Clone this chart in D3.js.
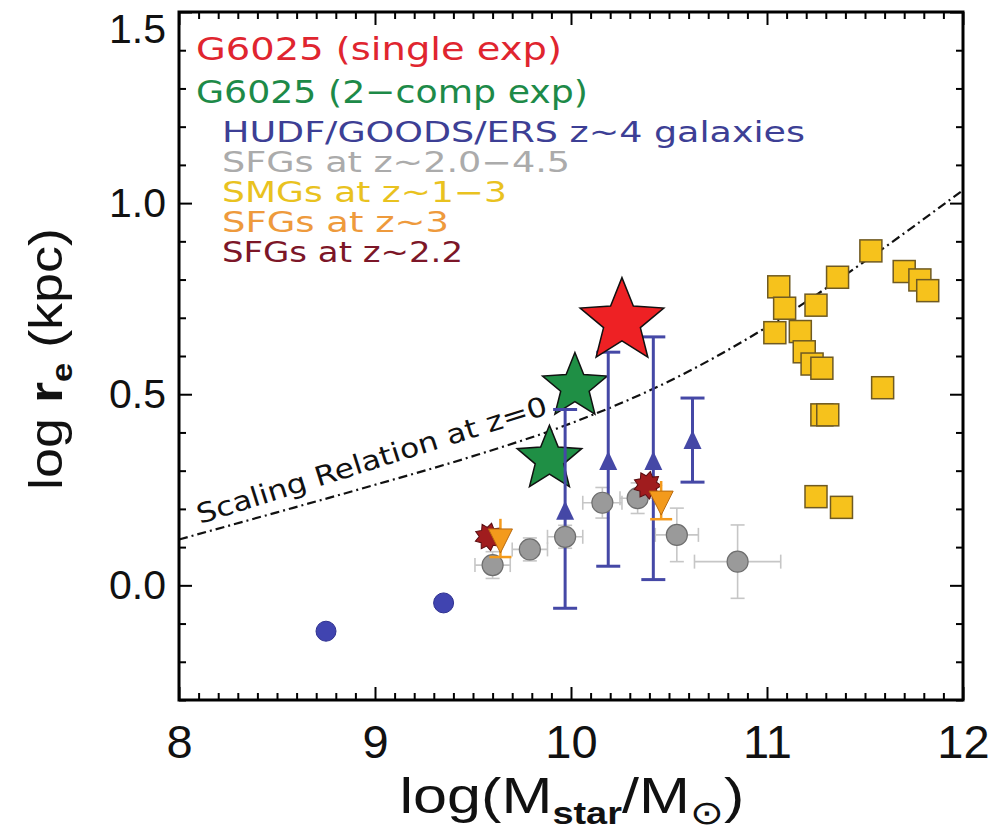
<!DOCTYPE html>
<html>
<head>
<meta charset="utf-8">
<script src="https://cdn.jsdelivr.net/npm/d3@7"></script>
<style>
  body { margin: 0; background: #fff; }
  svg { display: block; }
</style>
</head>
<body>
<svg id="chart" width="993" height="835"></svg>
<script>
// ---- data: log stellar mass vs log effective radius ----
const g6025Single = [{ x: 10.26, y: 0.69 }];
const g6025TwoComp = [{ x: 10.02, y: 0.52 }, { x: 9.89, y: 0.33 }];

// HUDF/GOODS/ERS z~4: binned medians with ranges, plus two single galaxies
const hudfBinned = [
  { x: 9.97,  y: 0.19,  lo: -0.06, hi: 0.46 },
  { x: 10.19, y: 0.32,  lo: 0.05,  hi: 0.61 },
  { x: 10.42, y: 0.32,  lo: 0.015, hi: 0.65 },
  { x: 10.62, y: 0.375, lo: 0.27,  hi: 0.49 }
];
const hudfSingle = [{ x: 8.75, y: -0.12 }, { x: 9.35, y: -0.046 }];

// SFGs at z~2.0-4.5 (with x / y errors)
const sfgWide = [
  { x: 9.60,  y: 0.053, xe: 0.09, ye: 0.035 },
  { x: 9.79,  y: 0.094, xe: 0.09, ye: 0.03 },
  { x: 9.97,  y: 0.127, xe: 0.09, ye: 0.03 },
  { x: 10.16, y: 0.216, xe: 0.10, ye: 0.04 },
  { x: 10.34, y: 0.228, xe: 0.09, ye: 0.04 },
  { x: 10.54, y: 0.132, xe: 0.11, ye: 0.07 },
  { x: 10.85, y: 0.062, xe: 0.22, ye: 0.096 }
];

// SMGs at z~1-3
const smgX = [11.06, 11.09, 11.04, 11.25, 11.36, 11.53, 11.17, 11.19, 11.23, 11.28, 11.70, 11.78, 11.82, 11.59, 11.28, 11.31, 11.25, 11.38];
const smgY = [0.781, 0.725, 0.661, 0.733, 0.806, 0.875, 0.664, 0.611, 0.579, 0.568, 0.821, 0.799, 0.771, 0.517, 0.446, 0.446, 0.232, 0.204];

// SFGs at z~3 (with y errors) and at z~2.2
const sfgZ3 = [{ x: 9.64, y: 0.124, ye: 0.05 }, { x: 10.46, y: 0.223, ye: 0.05 }];
const sfgZ22 = [{ x: 9.58, y: 0.127 }, { x: 10.39, y: 0.262 }];

// local size-mass relation of late types
const scalingX = [8.0, 8.5, 9.0, 9.5, 10.0, 10.5, 11.0, 11.5, 12.0];
const scalingY = [0.120, 0.191, 0.263, 0.338, 0.424, 0.534, 0.676, 0.848, 1.034];

const xTicks = [8, 9, 10, 11, 12];
const yTicks = [0.0, 0.5, 1.0, 1.5];

const legendLabels = [
  "G6025 (single exp)",
  "G6025 (2\u2212comp exp)",
  "HUDF/GOODS/ERS z~4 galaxies",
  "SFGs at z~2.0\u22124.5",
  "SMGs at z~1\u22123",
  "SFGs at z~3",
  "SFGs at z~2.2"
];
const legendColors = ["#e0252f", "#1d8a48", "#3d3f95", "#ababab", "#e9c21f", "#ee9a3c", "#7c1628"];

// ---- layout ----
const svg = d3.select("#chart");
const plotL = 179, plotR = 963, plotT = 12, plotB = 700;
const x = d3.scaleLinear().domain([8, 12]).range([plotL, plotR]);
const y = d3.scaleLinear().domain([-0.3, 1.5]).range([plotB, plotT]);

const blue = "#4548a6";

function starPath(R, ratio, n) {
  const pts = [];
  for (let i = 0; i < 2 * n; i++) {
    const r = i % 2 === 0 ? R : R * ratio;
    const a = -Math.PI / 2 + i * Math.PI / n;
    pts.push([r * Math.cos(a), r * Math.sin(a)]);
  }
  return "M" + pts.map(p => p[0].toFixed(2) + "," + p[1].toFixed(2)).join("L") + "Z";
}

// scaling relation (dash-dot)
svg.append("path")
  .datum(scalingX.map((v, i) => [v, scalingY[i]]))
  .attr("fill", "none")
  .attr("stroke", "#111")
  .attr("stroke-width", 2.2)
  .attr("stroke-dasharray", "9,4,2,4")
  .attr("d", d3.line().x(d => x(d[0])).y(d => y(d[1])).curve(d3.curveMonotoneX));

svg.append("text")
  .attr("transform", "translate(200,524) rotate(-17.5)")
  .attr("font-family", "DejaVu Sans")
  .attr("font-size", 27)
  .attr("fill", "#111")
  .attr("textLength", 366)
  .attr("lengthAdjust", "spacingAndGlyphs")
  .text("Scaling Relation at z=0");

// green stars
svg.selectAll(".gstar").data(g6025TwoComp).join("path")
  .attr("transform", d => `translate(${x(d.x)},${y(d.y)})`)
  .attr("d", starPath(34, 0.44, 5))
  .attr("fill", "#1f8f45").attr("stroke", "#111").attr("stroke-width", 1.5);

// gray error bars
const grayErr = svg.append("g").attr("stroke", "#c6c6c6").attr("stroke-width", 1.6).attr("fill", "none");
sfgWide.forEach(d => {
  const cx = x(d.x), cy = y(d.y);
  const x0 = x(d.x - d.xe), x1 = x(d.x + d.xe), y0 = y(d.y - d.ye), y1 = y(d.y + d.ye);
  grayErr.append("line").attr("x1", x0).attr("x2", x1).attr("y1", cy).attr("y2", cy);
  grayErr.append("line").attr("x1", x0).attr("x2", x0).attr("y1", cy - 7).attr("y2", cy + 7);
  grayErr.append("line").attr("x1", x1).attr("x2", x1).attr("y1", cy - 7).attr("y2", cy + 7);
  grayErr.append("line").attr("x1", cx).attr("x2", cx).attr("y1", y0).attr("y2", y1);
  grayErr.append("line").attr("x1", cx - 7).attr("x2", cx + 7).attr("y1", y0).attr("y2", y0);
  grayErr.append("line").attr("x1", cx - 7).attr("x2", cx + 7).attr("y1", y1).attr("y2", y1);
});

// blue ranges
const blueErr = svg.append("g").attr("stroke", blue).attr("stroke-width", 3).attr("fill", "none");
hudfBinned.forEach(d => {
  const cx = x(d.x);
  blueErr.append("line").attr("x1", cx).attr("x2", cx).attr("y1", y(d.lo)).attr("y2", y(d.hi));
  blueErr.append("line").attr("x1", cx - 12).attr("x2", cx + 12).attr("y1", y(d.lo)).attr("y2", y(d.lo));
  blueErr.append("line").attr("x1", cx - 12).attr("x2", cx + 12).attr("y1", y(d.hi)).attr("y2", y(d.hi));
});

// gray circles
svg.selectAll(".gcirc").data(sfgWide).join("circle")
  .attr("cx", d => x(d.x)).attr("cy", d => y(d.y)).attr("r", 10.5)
  .attr("fill", "#9a9a9a").attr("stroke", "#6e6e6e").attr("stroke-width", 1.2);

// blue triangles
svg.selectAll(".btri").data(hudfBinned).join("path")
  .attr("transform", d => `translate(${x(d.x)},${y(d.y)})`)
  .attr("d", "M0,-12L9,7L-9,7Z")
  .attr("fill", blue);

// blue dots
svg.selectAll(".bdot").data(hudfSingle).join("circle")
  .attr("cx", d => x(d.x)).attr("cy", d => y(d.y)).attr("r", 10)
  .attr("fill", "#4044b0").attr("stroke", "#2f3190").attr("stroke-width", 1);

// SMG squares
svg.selectAll(".sq").data(smgX.map((v, i) => ({ x: v, y: smgY[i] }))).join("rect")
  .attr("x", d => x(d.x) - 11).attr("y", d => y(d.y) - 11)
  .attr("width", 22).attr("height", 22)
  .attr("fill", "#f6c21c").attr("stroke", "#6f5a22").attr("stroke-width", 1.5);

// SFGs z~2.2
svg.selectAll(".mstar").data(sfgZ22).join("path")
  .attr("transform", d => `translate(${x(d.x)},${y(d.y)}) rotate(12)`)
  .attr("d", starPath(14, 0.68, 9))
  .attr("fill", "#a01c1e").attr("stroke", "#5a0d10").attr("stroke-width", 1);

// SFGs z~3 with error caps
const orErr = svg.append("g").attr("stroke", "#f39a1c").attr("stroke-width", 2.5);
sfgZ3.forEach(d => {
  const cx = x(d.x);
  orErr.append("line").attr("x1", cx).attr("x2", cx).attr("y1", y(d.y - d.ye)).attr("y2", y(d.y + d.ye));
  orErr.append("line").attr("x1", cx - 11).attr("x2", cx + 11).attr("y1", y(d.y - d.ye)).attr("y2", y(d.y - d.ye));
});
svg.selectAll(".otri").data(sfgZ3).join("path")
  .attr("transform", d => `translate(${x(d.x)},${y(d.y)})`)
  .attr("d", "M-12,-9L12,-9L0,15Z")
  .attr("fill", "#f39a1c").attr("stroke", "#b86a10").attr("stroke-width", 1);

// red star
svg.selectAll(".rstar").data(g6025Single).join("path")
  .attr("transform", d => `translate(${x(d.x)},${y(d.y)})`)
  .attr("d", starPath(44, 0.44, 5))
  .attr("fill", "#ee2124").attr("stroke", "#111").attr("stroke-width", 1.5);

// ---- axes with inward ticks on all sides ----
const minorX = d3.range(80, 121).map(v => v / 10).filter(v => Math.abs(v - Math.round(v)) > 1e-6);
const minorY = d3.range(-3, 16).map(v => v / 10).filter(v => Math.abs(v * 2 - Math.round(v * 2)) > 1e-6);

function styleAxis(g) {
  g.select(".domain").remove();
  g.selectAll(".tick line").attr("stroke", "#000").attr("stroke-width", 2);
}

svg.append("g").attr("transform", `translate(0,${plotB})`)
  .call(d3.axisBottom(x).tickValues(xTicks).tickSize(-13).tickPadding(25).tickFormat(d3.format("d")))
  .call(styleAxis)
  .call(g => g.selectAll("text").attr("font-family", "Liberation Sans").attr("font-size", 47).attr("fill", "#111"));
svg.append("g").attr("transform", `translate(0,${plotB})`)
  .call(d3.axisBottom(x).tickValues(minorX).tickSize(-7).tickFormat(""))
  .call(styleAxis);
svg.append("g").attr("transform", `translate(0,${plotT})`)
  .call(d3.axisTop(x).tickValues(xTicks).tickSize(-13).tickFormat(""))
  .call(styleAxis);
svg.append("g").attr("transform", `translate(0,${plotT})`)
  .call(d3.axisTop(x).tickValues(minorX).tickSize(-7).tickFormat(""))
  .call(styleAxis);

svg.append("g").attr("transform", `translate(${plotL},0)`)
  .call(d3.axisLeft(y).tickValues(yTicks).tickSize(-13).tickPadding(13).tickFormat(d3.format(".1f")))
  .call(styleAxis)
  .call(g => g.selectAll("text").attr("font-family", "Liberation Sans").attr("font-size", 41).attr("fill", "#111")
    // keep the top label inside the page
    .attr("dy", d => d === 1.5 ? "0.74em" : "0.32em"));
svg.append("g").attr("transform", `translate(${plotL},0)`)
  .call(d3.axisLeft(y).tickValues(minorY).tickSize(-7).tickFormat(""))
  .call(styleAxis);
svg.append("g").attr("transform", `translate(${plotR},0)`)
  .call(d3.axisRight(y).tickValues(yTicks).tickSize(-13).tickFormat(""))
  .call(styleAxis);
svg.append("g").attr("transform", `translate(${plotR},0)`)
  .call(d3.axisRight(y).tickValues(minorY).tickSize(-7).tickFormat(""))
  .call(styleAxis);

svg.append("rect")
  .attr("x", plotL).attr("y", plotT).attr("width", plotR - plotL).attr("height", plotB - plotT)
  .attr("fill", "none").attr("stroke", "#000").attr("stroke-width", 3);

// ---- axis titles ----
const xt = svg.append("text")
  .attr("x", 572).attr("y", 813).attr("text-anchor", "middle")
  .attr("font-family", "Liberation Sans").attr("font-size", 50).attr("fill", "#111")
  .attr("textLength", 345).attr("lengthAdjust", "spacingAndGlyphs");
xt.append("tspan").text("log(M");
xt.append("tspan").attr("dy", 11).attr("font-size", 31).attr("font-weight", "bold").text("star");
xt.append("tspan").attr("dy", -11).text("/M");
xt.append("tspan").attr("dy", 11).attr("font-size", 33).text("\u2299");
xt.append("tspan").attr("dy", -11).text(")");

const yt = svg.append("text")
  .attr("transform", "translate(62,359) rotate(-90)").attr("text-anchor", "middle")
  .attr("font-family", "Liberation Sans").attr("font-size", 47).attr("fill", "#111")
  .attr("textLength", 262).attr("lengthAdjust", "spacingAndGlyphs");
yt.append("tspan").text("log ");
yt.append("tspan").attr("font-weight", "bold").text("r");
yt.append("tspan").attr("dy", 10).attr("font-size", 30).attr("font-weight", "bold").text("e");
yt.append("tspan").attr("dy", -10).text(" (kpc)");

// ---- legend ----
const legendLayout = [
  { x: 196, y: 60,  size: 32, len: 366 },
  { x: 196, y: 103, size: 32, len: 392 },
  { x: 222, y: 142, size: 28, len: 583 },
  { x: 222, y: 172, size: 28, len: 348 },
  { x: 222, y: 202, size: 28, len: 285 },
  { x: 222, y: 232, size: 28, len: 227 },
  { x: 222, y: 262, size: 28, len: 241 }
];
svg.append("g").selectAll("text").data(legendLabels).join("text")
  .attr("x", (d, i) => legendLayout[i].x)
  .attr("y", (d, i) => legendLayout[i].y)
  .attr("font-family", "DejaVu Sans")
  .attr("font-size", (d, i) => legendLayout[i].size)
  .attr("textLength", (d, i) => legendLayout[i].len)
  .attr("lengthAdjust", "spacingAndGlyphs")
  .attr("fill", (d, i) => legendColors[i])
  .text(d => d);
</script>
</body>
</html>
